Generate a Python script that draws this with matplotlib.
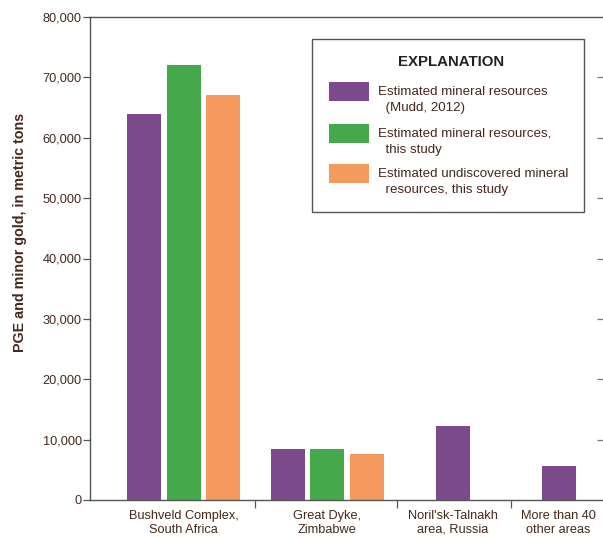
import numpy as np
import matplotlib
matplotlib.use('Agg')
import matplotlib.pyplot as plt
from matplotlib.patches import Rectangle

# Datos (toneladas metricas)
categories = ['Bushveld Complex,\nSouth Africa', 'Great Dyke,\nZimbabwe',
              "Noril'sk-Talnakh\narea, Russia", 'More than 40\nother areas']
mudd_2012 = [64000, 8500, 12300, 5700]
resources_study = [72000, 8500, np.nan, np.nan]
undiscovered_study = [67000, 7600, np.nan, np.nan]

series_labels = ['Estimated mineral resources\n  (Mudd, 2012)',
                 'Estimated mineral resources,\n  this study',
                 'Estimated undiscovered mineral\n  resources, this study']
colors = ['#7a4a8a', '#45a84a', '#f49a5c']
text_color = '#45271b'
axis_color = '#555555'

yticks = np.arange(0, 80001, 10000)

# Posiciones (en pixeles del eje, 0..513)
group_centers = [93.5, 237.0, 362.5, 468.5]
separators = [165, 307, 421]
offset = 39.5
bar_w = 34

W, H = 603, 538
fig = plt.figure(figsize=(W / 100, H / 100), dpi=100)
ax = fig.add_axes([90 / W, 1 - 500 / H, 513.5 / W, 483 / H])

series = [mudd_2012, resources_study, undiscovered_study]
for i, cx in enumerate(group_centers):
    vals = [s[i] for s in series]
    n = sum(1 for v in vals if not np.isnan(v))
    for j, v in enumerate(vals):
        if np.isnan(v):
            continue
        x = cx + (j - (n - 1) / 2) * offset
        ax.bar(x, v, width=bar_w, color=colors[j], linewidth=0)

ax.set_xlim(0, 513.5)
ax.set_ylim(0, 80000)
ax.set_yticks(yticks)
ax.set_yticklabels([f'{v:,}' for v in yticks])
ax.set_xticks(group_centers)
ax.set_xticklabels(categories)
ax.set_xticks(separators, minor=True)

font = ['Liberation Sans', 'DejaVu Sans']
for lab in ax.get_xticklabels() + ax.get_yticklabels():
    lab.set_family(font)
    lab.set_fontsize(9.2)
    lab.set_color(text_color)
for lab in ax.get_xticklabels():
    lab.set_linespacing(1.2)

ax.tick_params(axis='x', which='major', length=0, pad=7)
ax.tick_params(axis='x', which='minor', length=6, width=0.9, color=axis_color, direction='out')
ax.tick_params(axis='y', length=5, width=0.9, color=axis_color, direction='out', pad=1)

for sp in ['left', 'bottom', 'top']:
    ax.spines[sp].set_color(axis_color)
    ax.spines[sp].set_linewidth(1.0)
ax.spines['right'].set_visible(False)

ax2 = ax.twinx()
ax2.set_ylim(0, 80000)
ax2.set_yticks(yticks[1:-1])
ax2.tick_params(axis='y', direction='in', length=5, width=0.9, color='#777777', labelright=False)
for sp in ax2.spines.values():
    sp.set_visible(False)

fig.text(20 / W, 1 - 232 / H, 'PGE and minor gold, in metric tons', rotation=90,
         ha='center', va='center', fontsize=10.3, fontweight='bold',
         family=font, color=text_color)

# Cuadro de explicacion
def fx(x):
    return x / W

def fy(y):
    return 1 - y / H

fig.patches.append(Rectangle((fx(312), fy(212)), fx(584) - fx(312), fy(39) - fy(212),
                             transform=fig.transFigure, facecolor='white',
                             edgecolor=axis_color, linewidth=1.0, zorder=5))
fig.text(fx(451), fy(62), 'EXPLANATION', ha='center', va='center', fontsize=10.8,
         fontweight='bold', family=font, color='#222222', zorder=6)
patch_tops = [82, 124, 164]
for top, col, lab in zip(patch_tops, colors, series_labels):
    fig.patches.append(Rectangle((fx(329), fy(top + 19)), fx(369) - fx(329), fy(top) - fy(top + 19),
                                 transform=fig.transFigure, facecolor=col,
                                 edgecolor='none', zorder=6))
    fig.text(fx(378), fy(top + 4), lab, ha='left', va='top', fontsize=9.6,
             family=font, color=text_color, linespacing=1.5, zorder=6)

fig.savefig('out.png', dpi=100)
